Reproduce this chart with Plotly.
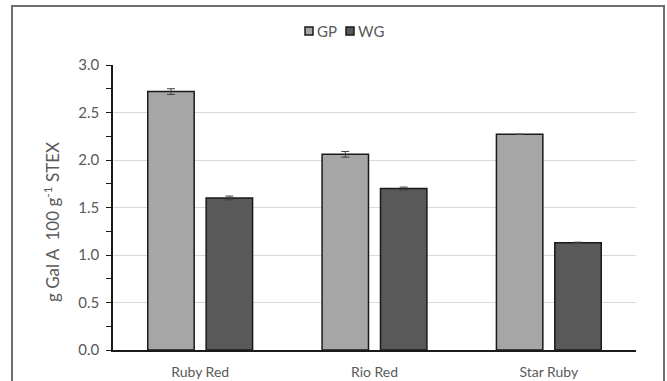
import plotly.graph_objects as go

cultivars = ["Ruby Red", "Rio Red", "Star Ruby"]
gp_values = [2.72, 2.06, 2.27]
gp_errors = [0.03, 0.03, 0.0]
wg_values = [1.60, 1.70, 1.13]
wg_errors = [0.02, 0.015, 0.005]

series_names = ["GP", "WG"]
series_colors = ["#A6A6A6", "#595959"]
y_title = "g Gal A  100 g<sup>-1</sup> STEX"

font_family = "Lato, 'Open Sans', sans-serif"
text_grey = "#595959"
edge = "#1a1a1a"

fig = go.Figure()
for name, vals, errs, color in zip(series_names, [gp_values, wg_values], [gp_errors, wg_errors], series_colors):
    fig.add_trace(go.Bar(
        name=name, x=cultivars, y=vals, showlegend=False,
        marker=dict(color=color, line=dict(color=edge, width=1.5)),
        error_y=dict(type="data", array=errs, color="#404040", thickness=1, width=4),
    ))

# pixel geometry of the plotting area, used to place the key and the axis title
plot_left, plot_w, plot_bottom, plot_h = 113, 523, 350, 285


def px_x(px):
    return (px - plot_left) / plot_w


def px_y(py):
    return (plot_bottom - py) / plot_h


# compact legend above the plot: small outlined squares with labels
legend_shapes = []
notes = []
legend_x = [305, 346]  # left edge of each key square, in pixels
for px, name, color in zip(legend_x, series_names, series_colors):
    legend_shapes.append(dict(type="rect", xref="paper", yref="paper",
                              x0=px_x(px), x1=px_x(px + 8), y0=px_y(35), y1=px_y(27),
                              fillcolor=color, line=dict(color=edge, width=1.5)))
    notes.append(dict(text=name, xref="paper", yref="paper", x=px_x(px + 10), y=px_y(31),
                      xanchor="left", yanchor="middle", showarrow=False,
                      font=dict(size=15, color=text_grey)))

# rotated y-axis title
notes.append(dict(text=y_title, xref="paper", yref="paper", x=px_x(52), y=px_y(222),
                  xanchor="center", yanchor="middle", textangle=-90, showarrow=False,
                  font=dict(size=17, color=text_grey)))

frame = dict(type="rect", xref="paper", yref="paper",
             x0=px_x(12), x1=px_x(664), y0=-0.2, y1=px_y(6),
             line=dict(color="#6e6e6e", width=2), fillcolor="rgba(0,0,0,0)", layer="below")

fig.update_layout(
    width=667, height=381,
    margin=dict(l=113, r=31, t=65, b=31),
    paper_bgcolor="white", plot_bgcolor="white",
    barmode="group", bargap=0.33, bargroupgap=0.205,
    font=dict(family=font_family, color=text_grey, size=12),
    showlegend=False,
    xaxis=dict(
        showline=True, linecolor=edge, linewidth=1.5, automargin=False,
        ticks="", showgrid=False, tickfont=dict(size=14, color=text_grey),
        ticklabelstandoff=8,
    ),
    yaxis=dict(
        range=[0, 3.0], dtick=0.5, tickformat=".1f", automargin=False,
        showline=True, linecolor=edge, linewidth=1.5,
        ticks="outside", ticklen=5, tickcolor=edge,
        minor=dict(dtick=0.25, ticks="outside", ticklen=5, tickcolor=edge, showgrid=False),
        showgrid=True, gridcolor="#D9D9D9", gridwidth=1,
        zeroline=False, ticklabelstandoff=4,
        tickfont=dict(size=15, color=text_grey),
    ),
    shapes=[frame] + legend_shapes,
    annotations=notes,
)

fig.write_html("out.html")
